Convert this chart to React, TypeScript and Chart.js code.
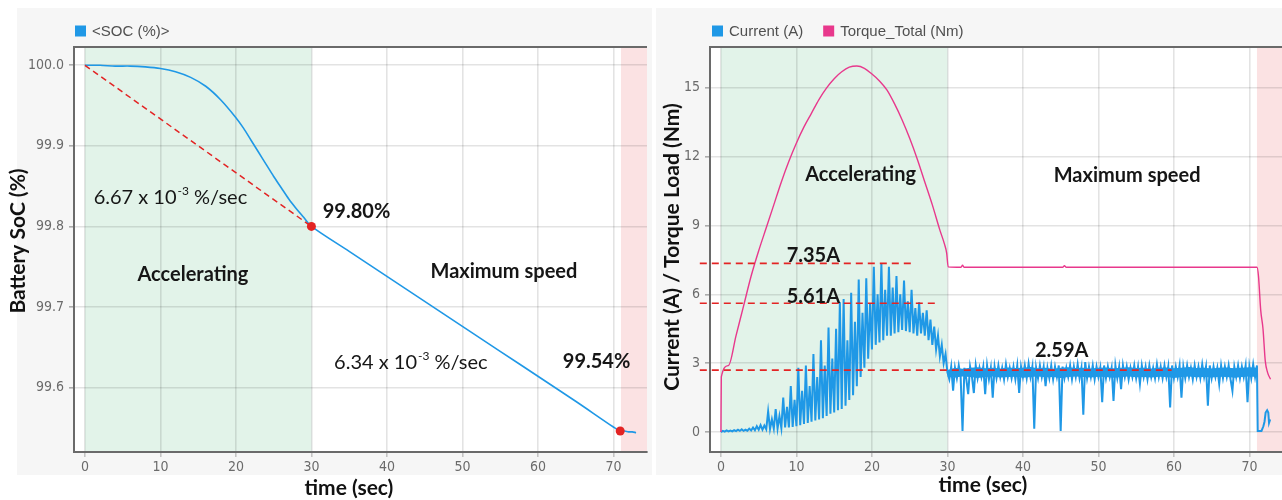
import React, { useEffect, useRef } from "react";
import { Chart, registerables } from "chart.js";

Chart.register(...registerables);

// ---------------- data ----------------
const timeTicks = [0, 10, 20, 30, 40, 50, 60, 70];
const socTicks = [99.6, 99.7, 99.8, 99.9, 100.0];
const loadTicks = [0, 3, 6, 9, 12, 15];

const socTime = [0, 2, 4, 6, 8, 10, 12, 14, 16, 18, 20, 21, 22, 23, 24, 25, 26, 27, 28, 29, 30, 35, 40, 45, 50, 55, 60, 65, 70, 70.9, 71.5, 72, 72.5, 73];
const socValue = [100.0, 100.0, 99.999, 99.999, 99.998, 99.996, 99.992, 99.985, 99.974, 99.957, 99.935, 99.922, 99.907, 99.892, 99.877, 99.862, 99.848, 99.834, 99.822, 99.811, 99.8, 99.769, 99.738, 99.707, 99.676, 99.645, 99.614, 99.583, 99.551, 99.546, 99.546, 99.545, 99.545, 99.544];
const socMarkTime = [30, 70.9];
const socMarkValue = [99.8, 99.546];
const socTrendTime = [0, 30];
const socTrendValue = [100.0, 99.8];

const torqueTime = [0, 0.05, 1, 2, 3, 4, 5, 6, 7, 8, 9, 10, 11, 12, 13, 14, 15, 16, 17, 18, 19, 20, 21, 22, 23, 24, 25, 26, 27, 28, 29, 29.6, 29.9, 30.1, 31.8, 32.0, 32.2, 45.3, 45.5, 45.7, 71.0, 71.2, 71.5, 71.8, 72.1, 72.4, 72.8];
const torqueValue = [0, 2.4, 2.9, 4.2, 5.5, 6.8, 7.9, 8.9, 9.9, 10.9, 11.8, 12.6, 13.3, 13.9, 14.5, 15.0, 15.4, 15.7, 15.9, 15.95, 15.85, 15.6, 15.3, 14.9, 14.3, 13.6, 12.8, 11.9, 10.9, 9.9, 8.8, 8.2, 7.8, 7.2, 7.18, 7.27, 7.18, 7.18, 7.25, 7.18, 7.18, 6.8, 5.3, 4.5, 3.1, 2.6, 2.3];

const currentStep = 0.25;
const currentAccelStart = 0;
const currentAccel = [
  0, 0.05, 0.02, 0.07, 0.03, 0.06, 0.03, 0.08,
  0.04, 0.1, 0.05, 0.12, 0.05, 0.1, 0.06, 0.15,
  0.07, 0.2, 0.08, 0.25, 0.1, 0.3, 0.1, 0.28,
  0.12, 0.9, 0.13, 0.55, 0.15, 1.0, 0.16, 0.7,
  0.18, 1.5, 0.2, 1.1, 0.2, 2.0, 0.22, 1.4,
  0.25, 2.8, 0.3, 1.8, 0.35, 2.9, 0.4, 2.0,
  0.45, 3.4, 0.5, 2.4, 0.55, 4.0, 0.6, 2.9,
  0.7, 4.55, 0.8, 3.2, 0.85, 4.5, 0.95, 5.65,
  1.0, 5.8, 1.15, 4.0, 1.4, 6.07, 1.6, 4.8,
  2.0, 6.65, 2.4, 5.2, 2.8, 6.7, 3.2, 5.6,
  3.6, 7.2, 3.8, 6.0, 3.9, 7.35, 4.0, 6.2,
  4.2, 7.2, 4.2, 6.3, 4.3, 6.8, 4.35, 6.0,
  4.45, 6.6, 4.4, 5.7, 4.35, 6.2, 4.3, 5.4,
  4.2, 5.65, 4.3, 5.2, 4.2, 5.3, 4.0, 4.9,
  3.8, 4.6, 3.6, 4.2, 3.3, 3.8, 3.0, 3.4,
  2.6,
];
const currentCruiseStart = 30.25;
const currentCruise = [
  2.3, 2.85, 1.8, 2.8, 2.35, 2.9, 2.4, 0.05,
  2.8, 2.3, 1.65, 2.85, 2.4, 1.7, 2.9, 2.35,
  2.8, 2.4, 2.85, 1.65, 2.9, 2.3, 2.8, 1.5,
  2.85, 2.35, 2.9, 2.4, 2.8, 2.3, 2.95, 2.4,
  2.8, 2.35, 2.85, 2.3, 2.9, 1.7, 2.85, 2.4,
  2.9, 2.35, 2.98, 2.4, 2.85, 0.15, 2.8, 2.35,
  2.9, 2.4, 2.85, 2.0, 2.8, 2.35, 2.9, 2.3,
  2.85, 2.4, 2.9, 0.05, 2.85, 2.35, 2.8, 2.4,
  2.9, 2.3, 2.85, 2.4, 2.95, 2.35, 2.8, 0.75,
  3.05, 2.35, 2.85, 2.4, 2.9, 2.3, 2.85, 2.4,
  2.8, 1.3, 2.9, 2.35, 2.85, 2.4, 2.8, 1.36,
  2.9, 2.35, 2.85, 1.87, 2.9, 2.4, 2.85, 2.3,
  2.8, 2.4, 2.9, 2.35, 2.85, 2.1, 2.9, 2.4,
  2.85, 2.3, 2.9, 2.4, 2.8, 2.35, 2.95, 2.4,
  2.85, 2.35, 2.9, 2.4, 2.85, 1.07, 2.9, 2.35,
  2.85, 2.4, 2.9, 1.5, 2.85, 2.35, 2.9, 2.4,
  2.8, 2.3, 2.9, 2.4, 2.85, 2.35, 2.95, 2.4,
  2.85, 1.15, 2.9, 2.35, 2.85, 2.4, 2.8, 2.1,
  2.9, 2.35, 2.85, 2.4, 2.9, 2.3, 1.8, 2.85,
  2.4, 2.9, 2.35, 2.85, 2.4, 2.9, 1.3, 2.85,
  2.35, 2.95, 2.4, 2.9,
];
const currentStopTime = [71.1, 71.6, 71.85, 72.0, 72.15, 72.35, 72.5, 72.6, 72.75];
const currentStopValue = [0.05, 0.05, 0.25, 0.45, 0.85, 0.95, 0.85, 0.4, 0.55];

// dense core of the cruise-phase current trace (1 s sampling from 30 s)
const currentCoreStart = 30;
const currentCoreStep = 1;
const currentCoreLow = [
  2.40, 2.38, 2.42, 2.40, 2.36, 2.40, 2.42,
  2.38, 2.40, 2.41, 2.37, 2.40, 2.42, 2.39,
  2.40, 2.36, 2.40, 2.42, 2.40, 2.38, 2.41,
  2.40, 2.37, 2.40, 2.42, 2.39, 2.40, 2.38,
  2.41, 2.40, 2.36, 2.40, 2.42, 2.39, 2.40,
  2.38, 2.41, 2.40, 2.37, 2.40, 2.42, 2.40,
];
const currentCoreHigh = [
  2.70, 2.80, 2.76, 2.80, 2.82, 2.78, 2.80,
  2.77, 2.81, 2.79, 2.80, 2.83, 2.78, 2.80,
  2.76, 2.80, 2.82, 2.79, 2.80, 2.77, 2.80,
  2.81, 2.78, 2.80, 2.82, 2.79, 2.80, 2.77,
  2.80, 2.81, 2.78, 2.80, 2.83, 2.79, 2.80,
  2.77, 2.80, 2.81, 2.78, 2.80, 2.82, 2.80,
];

const currentLevels = [7.35, 5.61, 2.7];
const currentLevelLabels = ["7.35A", "5.61A", "2.59A"];
const currentLevelFrom = [-2.8, -2.8, -2.8];
const currentLevelTo = [25.8, 28.6, 59.7];

const phaseFrom = [0, 71];
const phaseTo = [30, 80];

// ---------------- styling ----------------
const BLUE = "#1f98e6";
const PINK = "#e8388c";
const RED = "#e32424";
const GREEN_BAND = "#e2f3e9";
const PINK_BAND = "#fbe2e3";
const TEXT_FONT = "Lato, 'Open Sans', sans-serif";
const TICK_FONT = "'Liberation Sans Narrow', 'DejaVu Sans Condensed', Arial, sans-serif";
const LEGEND_FONT = "'Liberation Sans', Arial, sans-serif";
const X_MIN = -1.45;
const X_MAX = 74.45;

const pts = (xs: number[], ys: number[]) => xs.map((x, i) => ({ x, y: ys[i] }));
const sampled = (start: number, step: number, ys: number[]) =>
  ys.map((y, i) => ({ x: Math.round((start + i * step) * 100) / 100, y }));

type RichText = {
  text: string;
  sup?: string;
  after?: string;
  x: number;
  y: number;
  align: "left" | "center";
  bold: boolean;
  size: number;
};

function drawRich(ctx: CanvasRenderingContext2D, item: RichText, px: number, py: number) {
  const weight = item.bold ? "bold " : "";
  const main = `${weight}${item.size}px ${TEXT_FONT}`;
  const small = `${weight}${Math.round(item.size * 0.62)}px ${TEXT_FONT}`;
  ctx.font = main;
  const w1 = ctx.measureText(item.text).width;
  let w2 = 0;
  let w3 = 0;
  if (item.sup) {
    ctx.font = small;
    w2 = ctx.measureText(item.sup).width;
    ctx.font = main;
    w3 = ctx.measureText(item.after || "").width;
  }
  const total = w1 + w2 + w3;
  const x = item.align === "center" ? px - total / 2 : px;
  ctx.textBaseline = "middle";
  ctx.textAlign = "left";
  ctx.fillStyle = "#161616";
  ctx.font = main;
  ctx.fillText(item.text, x, py);
  if (item.sup) {
    ctx.font = small;
    ctx.fillText(item.sup, x + w1 + 1, py - item.size * 0.32);
    ctx.font = main;
    ctx.fillText(item.after || "", x + w1 + w2 + 1, py);
  }
}

const decorPlugin = {
  id: "decor",
  beforeDraw(chart: any, _args: any, opts: any) {
    const { ctx, chartArea: a, scales } = chart;
    ctx.save();
    ctx.fillStyle = "#f6f6f6";
    ctx.fillRect(opts.panel.x, opts.panel.y, opts.panel.w, opts.panel.h);
    ctx.fillStyle = "#ffffff";
    ctx.fillRect(a.left, a.top, a.right - a.left, a.bottom - a.top);
    phaseFrom.forEach((from, i) => {
      const x0 = Math.max(a.left, scales.x.getPixelForValue(from));
      const x1 = Math.min(a.right, scales.x.getPixelForValue(phaseTo[i]));
      ctx.fillStyle = i === 0 ? GREEN_BAND : PINK_BAND;
      ctx.fillRect(x0, a.top, x1 - x0, a.bottom - a.top);
    });
    ctx.restore();
  },
  afterDraw(chart: any, _args: any, opts: any) {
    const { ctx, chartArea: a, scales } = chart;
    ctx.save();
    // top border
    ctx.strokeStyle = "#6a6a6a";
    ctx.lineWidth = 2;
    ctx.beginPath();
    ctx.moveTo(a.left - 1, a.top);
    ctx.lineTo(a.right, a.top);
    ctx.stroke();
    // legend
    let lx = a.left + opts.legendOffset;
    const ly = 31;
    for (const item of opts.legend) {
      ctx.fillStyle = item.color;
      ctx.fillRect(lx, ly - 5.5, 11, 11);
      ctx.font = `15px ${LEGEND_FONT}`;
      ctx.fillStyle = "#505050";
      ctx.textBaseline = "middle";
      ctx.textAlign = "left";
      ctx.fillText(item.text, lx + 17, ly + 0.5);
      lx += 17 + ctx.measureText(item.text).width + 20;
    }
    // axis titles
    ctx.fillStyle = "#111";
    ctx.font = `bold ${opts.titleSize}px ${TEXT_FONT}`;
    ctx.textAlign = "center";
    ctx.textBaseline = "middle";
    ctx.fillText(opts.xTitle, opts.xTitlePos[0], opts.xTitlePos[1]);
    ctx.save();
    ctx.translate(opts.yTitlePos[0], opts.yTitlePos[1]);
    ctx.rotate(-Math.PI / 2);
    ctx.fillText(opts.yTitle, 0, 0);
    ctx.restore();
    // annotations
    for (const t of opts.texts as RichText[]) {
      drawRich(ctx, t, scales.x.getPixelForValue(t.x), scales.y.getPixelForValue(t.y));
    }
    ctx.restore();
  },
};

function axisX() {
  return {
    type: "linear",
    min: X_MIN,
    max: X_MAX,
    afterBuildTicks: (s: any) => {
      s.ticks = timeTicks.map((v) => ({ value: v }));
    },
    afterFit: (s: any) => {
      s.height = 48;
    },
    ticks: {
      color: "#6b6b6b",
      font: { family: TICK_FONT, size: 14 },
      padding: 2,
      maxRotation: 0,
      autoSkip: false,
    },
    grid: { color: "rgba(0,0,0,0.11)", lineWidth: 1.6, tickLength: 5, tickColor: "rgba(0,0,0,0.2)" },
    border: { display: true, color: "#6a6a6a", width: 2 },
  };
}

function axisY(ticks: number[], min: number, max: number, width: number, digits: number) {
  return {
    type: "linear",
    min,
    max,
    afterBuildTicks: (s: any) => {
      s.ticks = ticks.map((v) => ({ value: v }));
    },
    afterFit: (s: any) => {
      s.width = width;
    },
    ticks: {
      color: "#6b6b6b",
      font: { family: TICK_FONT, size: 14 },
      padding: 5,
      autoSkip: false,
      callback: (v: any) => Number(v).toFixed(digits),
    },
    grid: { color: "rgba(0,0,0,0.11)", lineWidth: 1.6, tickLength: 5, tickColor: "rgba(0,0,0,0.3)" },
    border: { display: true, color: "#6a6a6a", width: 2 },
  };
}

function socConfig(): any {
  return {
    type: "line",
    data: {
      datasets: [
        {
          data: pts(socMarkTime, socMarkValue),
          showLine: false,
          pointRadius: 4.5,
          pointBackgroundColor: RED,
          pointBorderWidth: 0,
        },
        {
          data: pts(socTrendTime, socTrendValue),
          borderColor: RED,
          borderWidth: 1.5,
          borderDash: [6, 4],
          pointRadius: 0,
        },
        {
          data: pts(socTime, socValue),
          borderColor: BLUE,
          borderWidth: 1.6,
          pointRadius: 0,
          tension: 0.3,
        },
      ],
    },
    options: {
      responsive: false,
      animation: false,
      devicePixelRatio: 1,
      layout: { padding: { top: 47, right: 8, bottom: 0, left: 0 }, autoPadding: false },
      plugins: {
        legend: { display: false },
        tooltip: { enabled: false },
        decor: {
          panel: { x: 17, y: 8, w: 635, h: 467 },
          legendOffset: 1,
          legend: [{ color: BLUE, text: "<SOC (%)>" }],
          titleSize: 21,
          xTitle: "time (sec)",
          xTitlePos: [349, 488],
          yTitle: "Battery SoC (%)",
          yTitlePos: [18, 241],
          texts: [
            { text: "6.67 x 10", sup: "-3", after: " %/sec", x: 1.15, y: 99.8364, align: "left", bold: false, size: 20 },
            { text: "99.80%", x: 31.5, y: 99.819, align: "left", bold: true, size: 20 },
            { text: "Accelerating", x: 14.3, y: 99.74, align: "center", bold: true, size: 20 },
            { text: "Maximum speed", x: 55.5, y: 99.7435, align: "center", bold: true, size: 20 },
            { text: "6.34 x 10", sup: "-3", after: " %/sec", x: 33.0, y: 99.6307, align: "left", bold: false, size: 20 },
            { text: "99.54%", x: 63.3, y: 99.632, align: "left", bold: true, size: 20 },
          ],
        },
      },
      scales: {
        x: axisX(),
        y: axisY(socTicks, 99.52, 100.0227, 74, 1),
      },
    },
    plugins: [decorPlugin],
  };
}

function loadConfig(): any {
  const levelSets = currentLevels.map((lv, i) => ({
    data: [
      { x: currentLevelFrom[i], y: lv },
      { x: currentLevelTo[i], y: lv },
    ],
    borderColor: RED,
    borderWidth: 1.6,
    borderDash: [7, 5],
    pointRadius: 0,
    clip: false,
  }));
  const currentPoints = [
    ...sampled(currentAccelStart, currentStep, currentAccel),
    ...sampled(currentCruiseStart, currentStep, currentCruise),
    ...pts(currentStopTime, currentStopValue),
  ];
  return {
    type: "line",
    data: {
      datasets: [
        ...levelSets,
        {
          data: pts(torqueTime, torqueValue),
          borderColor: PINK,
          borderWidth: 1.4,
          pointRadius: 0,
          cubicInterpolationMode: "monotone",
        },
        {
          data: sampled(currentCoreStart, currentCoreStep, currentCoreHigh),
          borderWidth: 0,
          borderColor: BLUE,
          backgroundColor: BLUE,
          pointRadius: 0,
          fill: "+1",
        },
        {
          data: sampled(currentCoreStart, currentCoreStep, currentCoreLow),
          borderWidth: 0,
          borderColor: BLUE,
          pointRadius: 0,
          fill: false,
        },
        {
          data: currentPoints,
          borderColor: BLUE,
          borderWidth: 2.0,
          pointRadius: 0,
        },
      ],
    },
    options: {
      responsive: false,
      animation: false,
      devicePixelRatio: 1,
      layout: { padding: { top: 47, right: 12, bottom: 0, left: 0 }, autoPadding: false },
      plugins: {
        legend: { display: false },
        tooltip: { enabled: false },
        decor: {
          panel: { x: 1, y: 8, w: 639, h: 467 },
          legendOffset: 2,
          legend: [
            { color: BLUE, text: "Current (A)" },
            { color: PINK, text: "Torque_Total (Nm)" },
          ],
          titleSize: 21,
          xTitle: "time (sec)",
          xTitlePos: [328, 485],
          yTitle: "Current (A) / Torque Load (Nm)",
          yTitlePos: [17, 247],
          texts: [
            { text: "Accelerating", x: 18.5, y: 11.22, align: "center", bold: true, size: 20 },
            { text: "Maximum speed", x: 53.8, y: 11.17, align: "center", bold: true, size: 20 },
            { text: currentLevelLabels[0], x: 8.7, y: 7.7, align: "left", bold: true, size: 20 },
            { text: currentLevelLabels[1], x: 8.7, y: 5.91, align: "left", bold: true, size: 20 },
            { text: currentLevelLabels[2], x: 41.6, y: 3.57, align: "left", bold: true, size: 20 },
          ],
        },
      },
      scales: {
        x: axisX(),
        y: axisY(loadTicks, -0.87, 16.78, 55, 0),
      },
    },
    plugins: [decorPlugin],
  };
}

function ChartCanvas({ left, width, make }: { left: number; width: number; make: () => any }) {
  const ref = useRef<HTMLCanvasElement | null>(null);
  useEffect(() => {
    if (!ref.current) return;
    const chart = new Chart(ref.current, make());
    return () => chart.destroy();
  }, [make]);
  return (
    <canvas
      ref={ref}
      width={width}
      height={500}
      style={{ position: "absolute", left, top: 0, width, height: 500 }}
    />
  );
}

export default function App() {
  return (
    <div
      style={{
        position: "fixed",
        left: 0,
        top: 0,
        width: 1282,
        height: 500,
        overflow: "hidden",
        background: "#ffffff",
      }}
    >
      <ChartCanvas left={0} width={655} make={socConfig} />
      <ChartCanvas left={655} width={640} make={loadConfig} />
    </div>
  );
}
